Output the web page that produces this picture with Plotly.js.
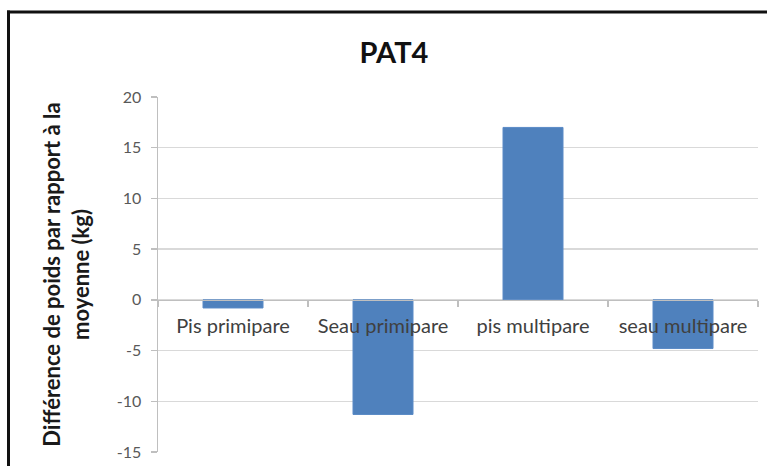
<!DOCTYPE html>
<html>
<head>
<meta charset="utf-8">
<script src="https://cdn.plot.ly/plotly-3.0.1.min.js"></script>
<style>
html,body{margin:0;padding:0;background:#fff;}
#chart{width:767px;height:466px;}
</style>
</head>
<body>
<div id="chart"></div>
<script>
const categories = ["Pis primipare", "Seau primipare", "pis multipare", "seau multipare"];
const values = [-0.8, -11.3, 17.0, -4.8];
const yTickValues = [-15, -10, -5, 0, 5, 10, 15, 20];
const chartTitle = "PAT4";
const yTitle = "Différence de poids par rapport à la<br>moyenne (kg)";

const W = 767, H = 466;
const m = {l: 158, r: 9, t: 97, b: 14};
const pw = W - m.l - m.r, ph = H - m.t - m.b;
const px = x => (x - m.l) / pw;
const py = y => 1 - (y - m.t) / ph;

const yMin = -15, yMax = 20;

const trace = {
  type: 'bar',
  x: categories,
  y: values,
  marker: {color: '#4F81BD', line: {color: '#5A8AC6', width: 1}},
  width: 0.4,
  hoverinfo: 'x+y'
};

const layout = {
  width: W, height: H,
  margin: m,
  paper_bgcolor: '#ffffff',
  plot_bgcolor: '#ffffff',
  showlegend: false,
  font: {family: 'Lato, "Open Sans", sans-serif', color: '#404040'},
  title: {
    text: '<b>' + chartTitle + '</b>',
    font: {family: 'Lato, sans-serif', size: 29, color: '#111111'},
    x: 394 / W, xref: 'container', xanchor: 'center',
    y: 1 - 53 / H, yref: 'container', yanchor: 'middle'
  },
  xaxis: {
    type: 'category',
    anchor: 'free',
    position: (0 - yMin) / (yMax - yMin),
    showgrid: false,
    showline: true, linecolor: '#BFBFBF', linewidth: 1.5,
    ticks: 'outside', tickson: 'boundaries', ticklen: 6, tickcolor: '#BFBFBF', tickwidth: 1.5,
    tickfont: {family: 'Lato, sans-serif', size: 20, color: '#404040'},
    ticklabelstandoff: 8,
    zeroline: false,
    fixedrange: true
  },
  yaxis: {
    range: [yMin, yMax],
    tickvals: yTickValues,
    ticktext: yTickValues.map(String),
    showgrid: true, gridcolor: '#D9D9D9', gridwidth: 1.5,
    showline: true, linecolor: '#BFBFBF', linewidth: 1.5,
    ticks: 'outside', ticklen: 6, tickcolor: '#BFBFBF', tickwidth: 1.5,
    tickfont: {family: 'Lato, sans-serif', size: 16, color: '#595959'},
    ticklabelstandoff: 6,
    zeroline: false,
    title: {
      text: '<b>' + yTitle + '</b>',
      font: {family: 'Lato, sans-serif', size: 22, color: '#1a1a1a'},
      standoff: 21
    },
    fixedrange: true
  },
  shapes: [
    {type: 'line', xref: 'paper', yref: 'paper',
     x0: px(8.5), x1: px(8.5), y0: py(480), y1: py(10.5),
     line: {color: '#111111', width: 3}},
    {type: 'line', xref: 'paper', yref: 'paper',
     x0: px(7), x1: px(780), y0: py(12), y1: py(12),
     line: {color: '#111111', width: 3}}
  ]
};

Plotly.newPlot('chart', [trace], layout, {displayModeBar: false, staticPlot: true});
</script>
</body>
</html>
